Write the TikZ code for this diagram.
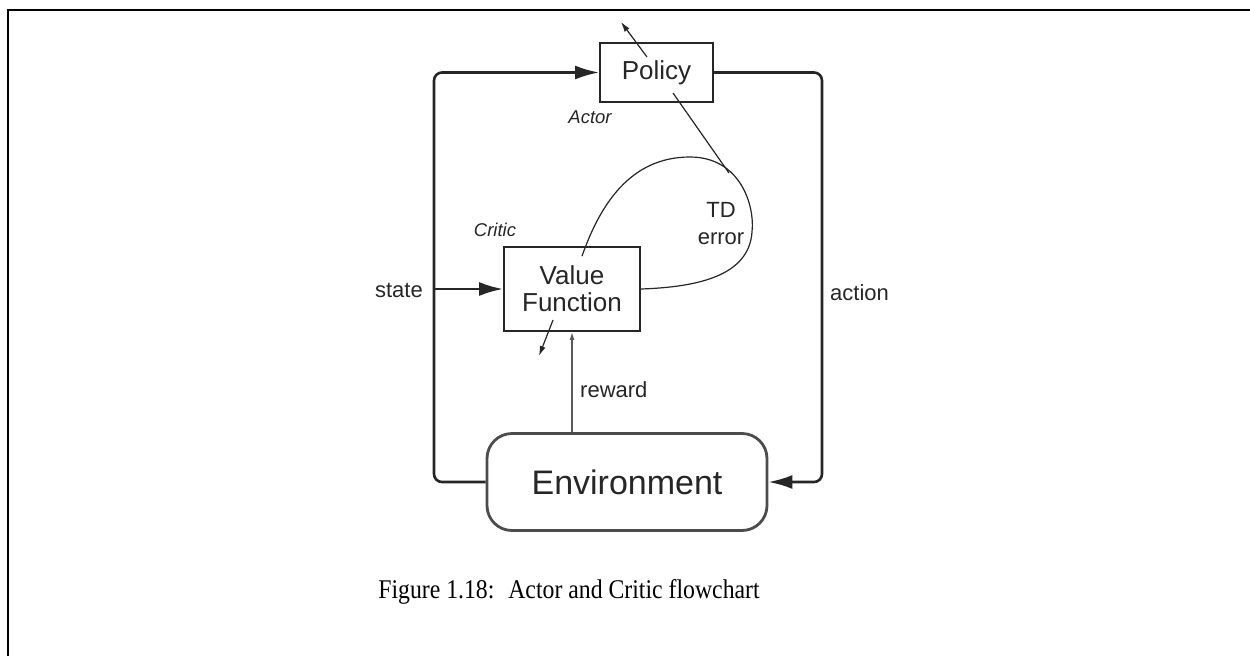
\documentclass[tikz,border=0pt]{standalone}
\usepackage{fontspec}
\setmainfont{Liberation Serif}
\setsansfont{Liberation Sans}
\usetikzlibrary{arrows.meta,calc}

\begin{document}
\begin{tikzpicture}[x=1pt,y=-1pt,
  box/.style={draw=black!85, line width=1.8pt, inner sep=0pt, align=center,
    font=\sffamily\fontsize{26}{27}\selectfont, text=black!85},
  envbox/.style={draw=black!70, line width=2.8pt, rounded corners=25pt, inner sep=0pt,
    font=\sffamily\fontsize{34}{40}\selectfont, text=black!85},
  mainline/.style={draw=black!85, line width=2.6pt},
  bigtip/.style={-{Latex[length=24pt,width=14pt]}},
  thinline/.style={draw=black!85, line width=1.2pt},
  smalltip/.style={-{Latex[length=10pt,width=6pt]}},
  lbl/.style={inner sep=0pt, font=\sffamily\fontsize{22}{27}\selectfont, text=black!85},
  tag/.style={inner sep=0pt, font=\sffamily\itshape\fontsize{18.5}{22}\selectfont, text=black!85}]

\useasboundingbox (0,0) rectangle (1250,656);

% page frame (top and left edges)
\draw[line width=2.4pt] (7.7,656) -- (7.7,10) -- (1250,10);

% blocks
\node[box, minimum width=113pt, minimum height=59pt] (pol) at (656.5,72.5) {Policy};
\node[box, minimum width=136pt, minimum height=84pt] (val) at (572,289) {Value\\Function};
\node[envbox, minimum width=280pt, minimum height=97pt] (env) at (627,482) {Environment};

% loop rails
\coordinate (lx) at (434,0);
\coordinate (rx) at (822,0);

% state: environment -> policy, with branch to value function
\draw[mainline, bigtip, rounded corners=8pt] (env.west) -| (pol.west -| lx) -- (pol.west);
\draw[mainline, bigtip] (val.west -| lx) -- (val.west);

% action: policy -> environment
\draw[mainline, bigtip, rounded corners=8pt] (pol.east) -| (env.east -| rx) -- (env.east);

% reward: environment -> value function
\draw[draw=black!65, line width=1.4pt, -{Latex[length=8pt,width=5pt]}] (val.south |- env.north) -- (val.south);

% TD error loop
\coordinate (tdstart) at ($(val.north)+(10,10)$);
\coordinate (tdtop) at (690,157);
\coordinate (tdright) at (752,232);
\draw[thinline] (tdstart) .. controls (600,205) and (630,157) .. (tdtop)
  .. controls (740,157) and (755,205) .. (tdright)
  .. controls (749,275) and (700,287) .. (val.east);

% TD error feeding the actor
\coordinate (polin) at ($(pol.center)+(16.5,20.5)$);
\coordinate (tdjoin) at (729,173);
\draw[thinline] (polin) -- (tdjoin);

% parameter updates
\coordinate (polout) at ($(pol.center)+(-9.5,-15.5)$);
\coordinate (polupd) at ($(pol.center)+(-35.5,-50.5)$);
\draw[thinline, smalltip] (polout) -- (polupd);
\coordinate (valout) at ($(val.center)+(-19,31)$);
\coordinate (valupd) at ($(val.center)+(-33,67)$);
\draw[thinline, smalltip] (valout) -- (valupd);

% labels
\node[lbl, anchor=east] (st) at (423,290) {state};
\node[lbl, anchor=west] (ac) at (830,293) {action};
\node[lbl, anchor=west] (rw) at (580,390) {reward};
\node[lbl, align=center] (td) at (721,224) {TD\\error};
\node[tag] (actor) at (590,117) {Actor};
\node[tag] (critic) at (495,230) {Critic};

% caption
\node[inner sep=0pt] (cap) at (569,592)
  {\scalebox{0.88}[1]{\fontsize{27}{32}\selectfont Figure 1.18:~ Actor and Critic flowchart}};

\end{tikzpicture}
\end{document}
